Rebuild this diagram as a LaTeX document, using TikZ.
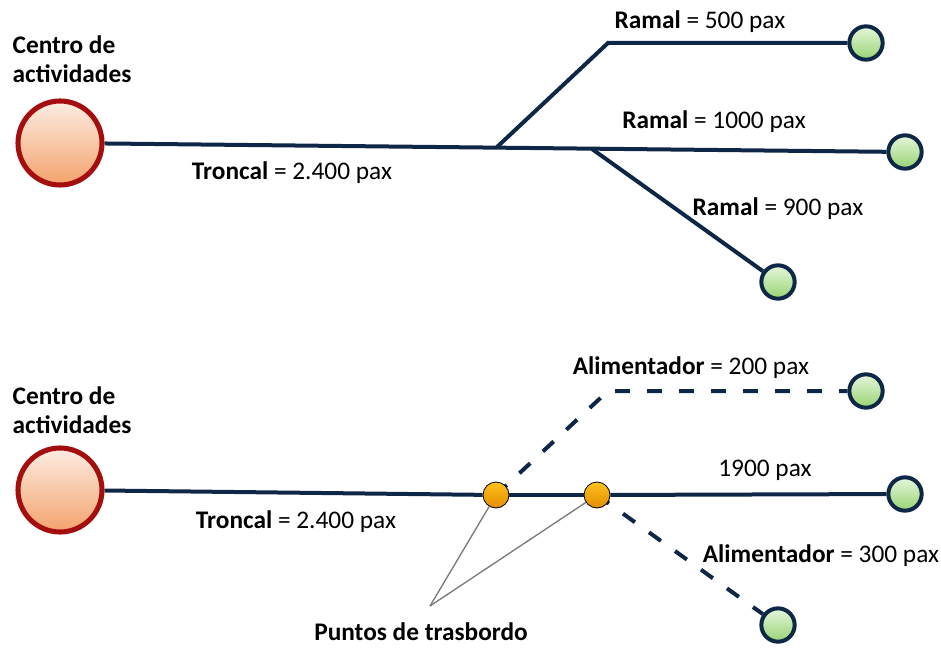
\documentclass[tikz,border=0pt]{standalone}
\usepackage{fontspec}
\setmainfont{Carlito}
\usetikzlibrary{positioning}
\definecolor{navy}{HTML}{0F2747}
\definecolor{rim}{HTML}{A50E0E}
\definecolor{peachtop}{HTML}{FDEDE3}
\definecolor{peachbot}{HTML}{F3A26C}
\definecolor{leaftop}{HTML}{E6F6DC}
\definecolor{leafbot}{HTML}{98D372}
\definecolor{ambtop}{HTML}{FFC21A}
\definecolor{ambbot}{HTML}{E38C00}
\definecolor{pointer}{HTML}{7A7A7A}

\begin{document}
\begin{tikzpicture}[x=0.75pt, y=-0.75pt,
  font=\fontsize{19}{22}\selectfont,
  hub/.style={circle, draw=rim, line width=3.8pt, minimum size=63pt, inner sep=0pt,
              top color=peachtop, bottom color=peachbot},
  stop/.style={circle, draw=navy, line width=3pt, minimum size=25pt, inner sep=0pt,
               top color=leaftop, bottom color=leafbot},
  xfer/.style={circle, draw=black, line width=0.6pt, minimum size=19.5pt, inner sep=0pt,
               top color=ambtop, bottom color=ambbot},
  ln/.style={draw=navy, line width=3pt},
  feed/.style={ln, dash pattern=on 11pt off 13pt},
  ptr/.style={draw=pointer, line width=1pt},
  lbl/.style={inner sep=0pt, align=left}]
\useasboundingbox (0,0) rectangle (941,648);

% upper scheme: trunk with branches
\node[hub] (hubA) at (60,143) {};
\node[stop] (endA1) at (866,43) {};
\node[stop] (endA2) at (905,152) {};
\node[stop] (endA3) at (778,282) {};
\coordinate (forkA1) at (497,147);
\coordinate (forkA2) at (592,149);
\coordinate (bendA) at (608,43);
\draw[ln] (hubA) -- (endA2);
\draw[ln] (forkA1) -- (bendA) -- (endA1);
\draw[ln] (forkA2) -- (endA3);
\node[lbl] (ctrA) at (72,59) {\textbf{Centro de}\\\textbf{actividades}};
\node[lbl] (trkA) at (292,173) {\textbf{Troncal} = 2.400 pax};
\node[lbl] (brA1) at (700,22) {\textbf{Ramal} = 500 pax};
\node[lbl] (brA2) at (714,122) {\textbf{Ramal} = 1000 pax};
\node[lbl] (brA3) at (778,209) {\textbf{Ramal} = 900 pax};

% lower scheme: trunk with feeders
\node[hub] (hubB) at (60,490) {};
\node[stop] (endB1) at (866,391) {};
\node[stop] (endB2) at (905,494) {};
\node[stop] (endB3) at (778,625) {};
\coordinate (bendB) at (608,391);
\draw[feed] (496,495) -- (bendB) -- (endB1);
\draw[feed] (597,495) -- (endB3);
\node[xfer] (xf1) at (496,495) {};
\node[xfer] (xf2) at (597,495) {};
\draw[ln] (hubB) -- (xf1);
\draw[ln] (xf1) -- (xf2);
\draw[ln] (xf2) -- (endB2);
\node[lbl] (ctrB) at (72,410) {\textbf{Centro de}\\\textbf{actividades}};
\node[lbl] (trkB) at (296,522) {\textbf{Troncal} = 2.400 pax};
\node[lbl] (fdB1) at (691,368) {\textbf{Alimentador} = 200 pax};
\node[lbl] (thrB) at (765,470) {1900 pax};
\node[lbl] (fdB3) at (821,556) {\textbf{Alimentador} = 300 pax};
\node[lbl] (pts) at (421,632) {\textbf{Puntos de trasbordo}};
\coordinate (tip) at (430,606);
\draw[ptr] (tip) -- (xf1);
\draw[ptr] (tip) -- (xf2);
\end{tikzpicture}
\end{document}
